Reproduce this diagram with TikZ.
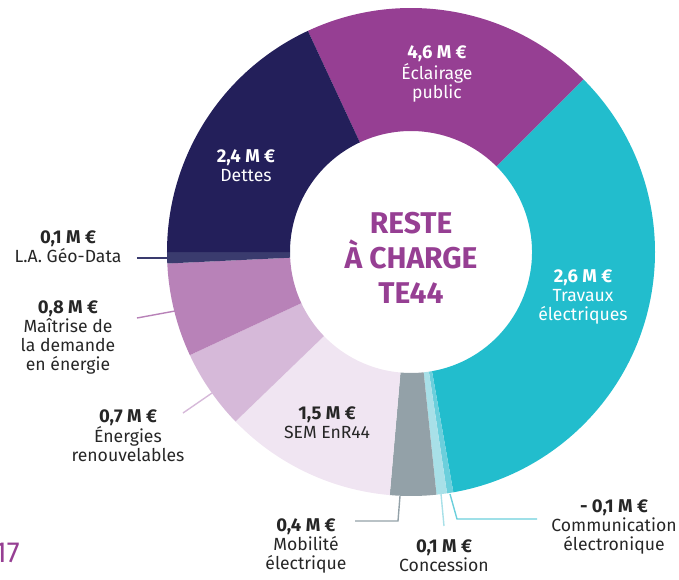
\documentclass[tikz,border=0pt]{standalone}
\usepackage{fontspec}
\setmainfont{Fira Sans}
\definecolor{eclairage}{HTML}{963F93}
\definecolor{dettes}{HTML}{231F5A}
\definecolor{geodata}{HTML}{3A3B6E}
\definecolor{maitrise}{HTML}{B882B8}
\definecolor{enr}{HTML}{D6B9D9}
\definecolor{sem}{HTML}{F0E5F2}
\definecolor{mobilite}{HTML}{93A1A8}
\definecolor{concession}{HTML}{A8E0E8}
\definecolor{communication}{HTML}{6BCFDC}
\definecolor{travaux}{HTML}{22BDCD}
\definecolor{texte}{HTML}{262626}
\newcommand{\secteur}[3]{\fill[#3] (#1:244pt) arc[start angle=#1, end angle=#2, radius=244pt] -- (#2:121pt) arc[start angle=#2, end angle=#1, radius=121pt] -- cycle;}
\newcommand{\montant}[1]{{\fontsize{18.5}{19}\selectfont\bfseries #1}}
\begin{document}
\begin{tikzpicture}[x=1pt,y=1pt]
\tikzset{etiq/.style={align=center, inner sep=0pt, font=\fontsize{17.6}{19}\selectfont, text=texte},
  blanc/.style={etiq, text=white},
  titre/.style={align=center, inner sep=0pt, font=\fontsize{30}{35}\selectfont\bfseries, text=eclairage},
  renvoi/.style={line width=1.4pt}}
\useasboundingbox (-411,-327) rectangle (268,252);
\secteur{115}{45}{eclairage}
\secteur{45}{-80}{travaux}
\secteur{-80}{-81.5}{communication}
\secteur{-81.5}{-84}{concession}
\secteur{-84}{-95}{mobilite}
\secteur{-95}{-136}{sem}
\secteur{-136}{-155}{enr}
\secteur{-155}{-177.3}{maitrise}
\secteur{-177.3}{-180}{geodata}
\secteur{180}{115}{dettes}
\node[titre] (centre) at (0,-6) {RESTE\\À CHARGE\\TE44};
\node[blanc] (L1) at (26,178) {\montant{4,6 M €}\\Éclairage\\public};
\node[blanc] (L2) at (-165,86.5) {\montant{2,4 M €}\\Dettes};
\node[blanc] (L3) at (172,-45) {\montant{2,6 M €}\\Travaux\\électriques};
\node[etiq] (L4) at (-84,-171) {\montant{1,5 M €}\\SEM EnR44};
\node[etiq] (L5) at (-105,-294) {\montant{0,4 M €}\\Mobilité\\électrique};
\node[etiq] (L6) at (33,-304) {\montant{0,1 M €}\\Concession};
\node[etiq] (L7) at (203,-275) {\montant{- 0,1 M €}\\Communication\\électronique};
\node[etiq] (L8) at (-343,5.5) {\montant{0,1 M €}\\L.A. Géo-Data};
\node[etiq] (L9) at (-343,-85) {\montant{0,8 M €}\\Maîtrise de\\la demande\\en énergie};
\node[etiq] (L10) at (-283,-184) {\montant{0,7 M €}\\Énergies\\renouvelables};
\node[anchor=east, inner sep=0pt, font=\fontsize{29}{30}\selectfont\fontseries{l}\selectfont, text=eclairage] (page) at (-391,-301) {17};
\coordinate (G1) at (-274,-6);
\coordinate (G2) at (-243,-6);
\coordinate (M1) at (-274,-66);
\coordinate (M2) at (-236,-59);
\coordinate (E1) at (-228,-161);
\coordinate (E2) at (-199,-141);
\coordinate (B1) at (-56,-269);
\coordinate (B2) at (-13,-269);
\coordinate (B3) at (-11,-244);
\coordinate (C1) at (33,-274);
\coordinate (C2) at (30,-242);
\coordinate (K1) at (126,-267);
\coordinate (K2) at (46,-267);
\coordinate (K3) at (39,-242);
\draw[renvoi, geodata] (G1) -- (G2);
\draw[renvoi, maitrise] (M1) -- (M2);
\draw[renvoi, enr] (E1) -- (E2);
\draw[renvoi, mobilite] (B1) -- (B2) -- (B3);
\draw[renvoi, concession] (C1) -- (C2);
\draw[renvoi, communication] (K1) -- (K2) -- (K3);
\end{tikzpicture}
\end{document}
